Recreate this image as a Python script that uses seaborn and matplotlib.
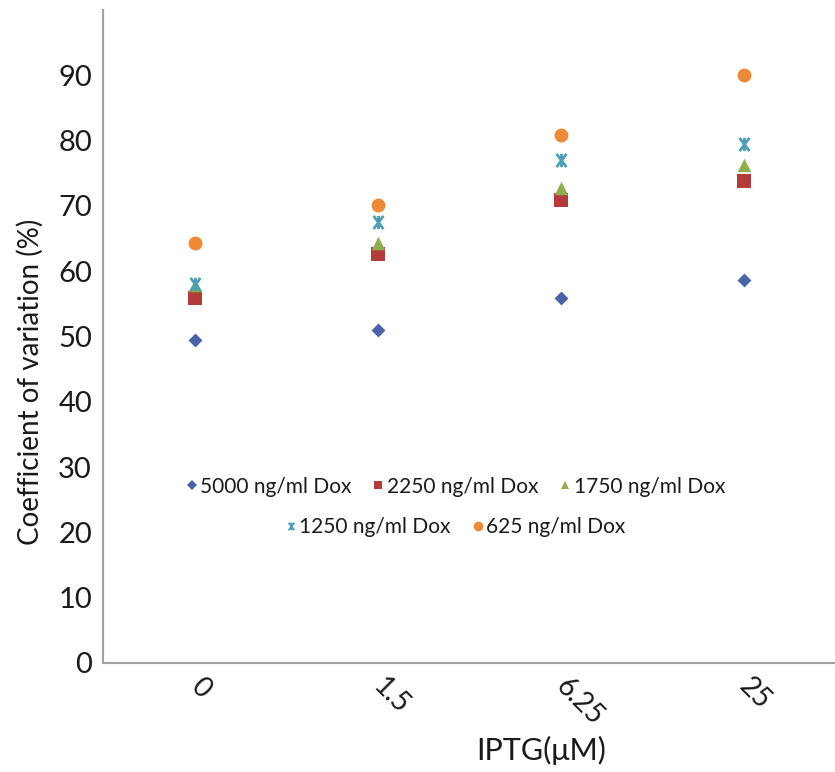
import matplotlib
matplotlib.use("Agg")
import matplotlib.pyplot as plt
import matplotlib.transforms as mtransforms
import seaborn as sns
import pandas as pd
from matplotlib.lines import Line2D
from matplotlib.path import Path

# ---- data ----
iptg = ["0", "1.5", "6.25", "25"]
series_names = ["5000 ng/ml Dox", "2250 ng/ml Dox", "1750 ng/ml Dox",
                "1250 ng/ml Dox", "625 ng/ml Dox"]
dox_5000 = [49.5, 51.0, 55.9, 58.7]
dox_2250 = [55.9, 62.6, 70.9, 73.8]
dox_1750 = [57.9, 64.3, 72.7, 76.3]
dox_1250 = [58.0, 67.5, 77.0, 79.5]
dox_625 = [64.3, 70.1, 80.9, 90.0]
y_ticks = [0, 10, 20, 30, 40, 50, 60, 70, 80, 90]

# Excel-style star marker: an X with a vertical bar
star = Path([(-0.75, -1), (0.75, 1), (-0.75, 1), (0.75, -1), (0, -1), (0, 1)],
            [Path.MOVETO, Path.LINETO, Path.MOVETO, Path.LINETO,
             Path.MOVETO, Path.LINETO])

colors = ["#4a63a8", "#b33c3a", "#8fae4c", "#4b9fb6", "#ee8a35"]
markers = ["D", "s", "^", star, "o"]
sizes = [50, 95, 95, 90, 100]

rows = []
for name, vals in zip(series_names,
                      [dox_5000, dox_2250, dox_1750, dox_1250, dox_625]):
    for x, v in zip(iptg, vals):
        rows.append({"IPTG": x, "CV": v, "series": name})
df = pd.DataFrame(rows)

sns.set_style("white")
plt.rcParams["font.family"] = ["Lato", "DejaVu Sans"]

fig = plt.figure(figsize=(8.35, 7.72), dpi=100)
ax = fig.add_axes([0.1234, 0.1412, 0.8766, 0.8458])

for name, c, m, s in zip(series_names, colors, markers, sizes):
    sub = df[df["series"] == name]
    is_star = name == "1250 ng/ml Dox"
    sns.scatterplot(data=sub, x="IPTG", y="CV", color=c, marker=m, s=s,
                    linewidth=2.0 if is_star else 0,
                    edgecolor=c, ax=ax, legend=False)

ax.set_xlim(-0.5, 3.457)
ax.set_ylim(0, 100)
ax.set_yticks(y_ticks + [100])
ax.set_yticklabels([str(t) for t in y_ticks] + [""], fontsize=21)
ax.set_xticks(range(len(iptg)))
ax.set_xticklabels(iptg, rotation=-45, fontsize=20)
offset = mtransforms.ScaledTranslation(-14 / 100, 0, fig.dpi_scale_trans)
for lbl in ax.get_xticklabels():
    lbl.set_rotation_mode("anchor")
    lbl.set_ha("left")
    lbl.set_va("center")
    lbl.set_transform(lbl.get_transform() + offset)
ax.set_xticks([i - 0.5 for i in range(len(iptg) + 1)], minor=True)
ax.tick_params(axis="x", which="major", length=0, pad=14)
ax.tick_params(axis="x", which="minor", length=5, color="#a0a0a0", width=1.2)
ax.tick_params(axis="y", length=5, color="#a0a0a0", width=1.2, pad=3,
               labelcolor="#1a1a1a")
ax.tick_params(axis="x", labelcolor="#1a1a1a")

for side in ["top", "right"]:
    ax.spines[side].set_visible(False)
for side in ["left", "bottom"]:
    ax.spines[side].set_color("#a0a0a0")
    ax.spines[side].set_linewidth(1.5)

ax.set_ylabel("Coefficient of variation (%)", fontsize=20, color="#1a1a1a")
ax.yaxis.set_label_coords(-0.0806, 0.43)
ax.set_xlabel("IPTG(μM)", fontsize=22, color="#1a1a1a")
ax.xaxis.set_label_coords(0.598, -0.112)

handles = [Line2D([], [], linestyle="none", marker=m, color=c,
                  markeredgecolor=c, markersize=ms,
                  markeredgewidth=1.3 if i == 3 else 0)
           for i, (m, c, ms) in enumerate(zip(markers, colors,
                                               [5, 6, 6, 5.5, 7]))]
leg1 = ax.legend(handles[:3], series_names[:3], ncol=3, loc="center",
                 bbox_to_anchor=(0.481, 0.27), frameon=False, fontsize=15,
                 handlelength=0.6, handletextpad=0.1, columnspacing=1.0,
                 labelcolor="#1a1a1a")
ax.add_artist(leg1)
ax.legend(handles[3:], series_names[3:], ncol=2, loc="center",
          bbox_to_anchor=(0.481, 0.208), frameon=False, fontsize=15,
          handlelength=0.6, handletextpad=0.1, columnspacing=1.0,
          labelcolor="#1a1a1a")

fig.savefig("out.png", dpi=100)
